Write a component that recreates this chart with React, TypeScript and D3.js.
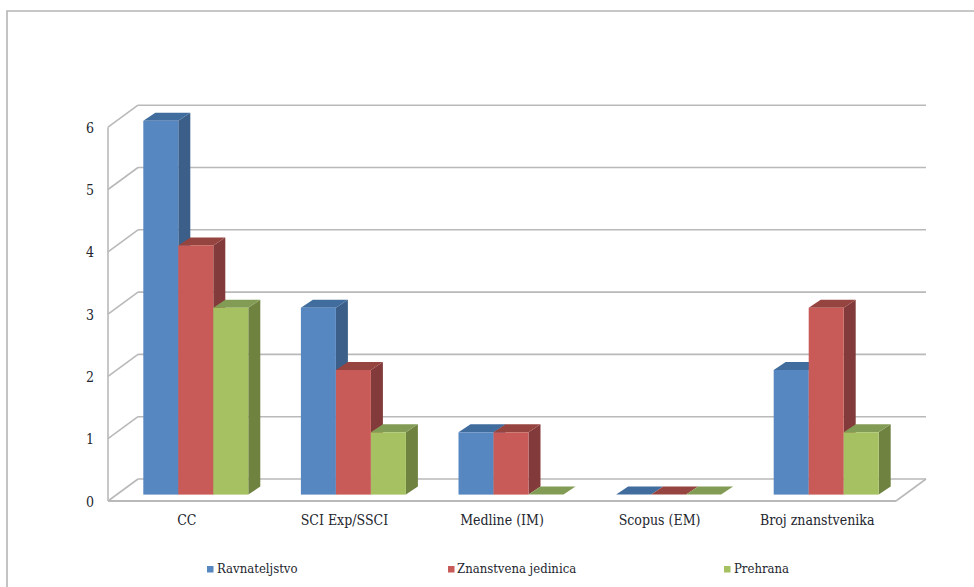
import React from "react";
import * as d3 from "d3";

const categories = ["CC", "SCI Exp/SSCI", "Medline (IM)", "Scopus (EM)", "Broj znanstvenika"];
const seriesNames = ["Ravnateljstvo", "Znanstvena jedinica", "Prehrana"];
const ravnateljstvo = [6, 3, 1, 0, 2];
const znanstvenaJedinica = [4, 2, 1, 0, 3];
const prehrana = [3, 1, 0, 0, 1];
const yTicks = [0, 1, 2, 3, 4, 5, 6];

const seriesValues = [ravnateljstvo, znanstvenaJedinica, prehrana];
const frontColors = ["#5687c1", "#c85b57", "#a5c162"];
const topColors = ["#416d9e", "#96443f", "#839c55"];
const sideColors = ["#3b5f89", "#823a3a", "#6f8240"];
const legendSwatchX = [207, 448, 724];
const legendTextX = [217, 457, 734];

const FONT = "'DejaVu Serif Condensed', 'DejaVu Serif', serif";
const GRID = "#b9b9b9";
const INK = "#23262e";

export default function App() {
  const y = d3.scaleLinear().domain([0, 6]).range([501, 127.2]);
  const x = d3.scaleBand<string>().domain(categories).range([108, 896]);
  const wallDx = 30;
  const wallDy = -22;
  const barPlaneDx = 9;
  const barPlaneDy = -6.4;
  const depthDx = 12;
  const depthDy = -8;
  const barW = 35;
  const group = d3.scaleBand<number>().domain([0, 1, 2]).range([-barW * 1.5, barW * 1.5]);

  return (
    <svg
      width={974}
      height={587}
      style={{ position: "absolute", left: 0, top: 0, background: "#fff" }}
    >
      <path d="M7,587 V11 H974" fill="none" stroke="#b5b5b5" strokeWidth={1.6} />

      {/* back wall gridlines and left wall */}
      {yTicks.map((t) => (
        <g key={t} stroke={GRID} strokeWidth={1.6} fill="none">
          <line x1={108 + wallDx} x2={896 + wallDx} y1={y(t) + wallDy} y2={y(t) + wallDy} />
          <line x1={108} y1={y(t)} x2={108 + wallDx} y2={y(t) + wallDy} />
        </g>
      ))}
      <line x1={108} x2={108} y1={y(6)} y2={y(0)} stroke={GRID} strokeWidth={1.6} />
      <line x1={108} x2={896} y1={y(0)} y2={y(0)} stroke={GRID} strokeWidth={2} />
      <line
        x1={896}
        y1={y(0)}
        x2={896 + wallDx}
        y2={y(0) + wallDy}
        stroke={GRID}
        strokeWidth={1.6}
      />

      {/* bars */}
      {categories.map((c, ci) => {
        const cx = (x(c) as number) + x.bandwidth() / 2 + barPlaneDx;
        return (
          <g key={c}>
            {[...seriesValues.keys()].map((si) => {
              const v = seriesValues[si][ci];
              const l = cx + (group(si) as number);
              const r = l + barW;
              const t = y(v) + barPlaneDy;
              const b = y(0) + barPlaneDy;
              return (
                <g key={si}>
                  <path
                    d={`M${r},${t} L${r + depthDx},${t + depthDy} V${b + depthDy} L${r},${b} Z`}
                    fill={sideColors[si]}
                  />
                  <path
                    d={`M${l},${t} L${l + depthDx},${t + depthDy} H${r + depthDx} L${r},${t} Z`}
                    fill={topColors[si]}
                  />
                  {v > 0 && <rect x={l} y={t} width={barW} height={b - t} fill={frontColors[si]} />}
                </g>
              );
            })}
          </g>
        );
      })}

      {/* y axis labels */}
      {yTicks.map((t) => (
        <text
          key={t}
          x={94}
          y={y(t) + 1.5}
          textAnchor="end"
          dominantBaseline="middle"
          fontFamily={FONT}
          fontSize={14}
          fill={INK}
        >
          {t}
        </text>
      ))}

      {/* category labels */}
      {categories.map((c) => (
        <text
          key={c}
          x={(x(c) as number) + x.bandwidth() / 2}
          y={521}
          textAnchor="middle"
          dominantBaseline="middle"
          fontFamily={FONT}
          fontSize={14}
          fill={INK}
        >
          {c}
        </text>
      ))}

      {/* legend */}
      {seriesNames.map((n, i) => (
        <g key={n}>
          <rect x={legendSwatchX[i]} y={566} width={6.5} height={6.5} fill={frontColors[i]} />
          <text
            x={legendTextX[i]}
            y={569}
            dominantBaseline="middle"
            fontFamily={FONT}
            fontSize={13}
            fill={INK}
          >
            {n}
          </text>
        </g>
      ))}
    </svg>
  );
}
